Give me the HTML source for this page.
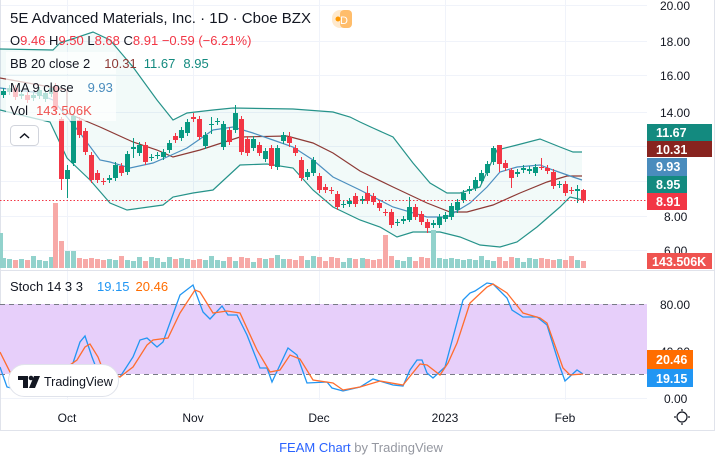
<!DOCTYPE html>
<html><head><meta charset="utf-8"><style>
body{margin:0;width:723px;height:459px;background:#fff;overflow:hidden;font-family:"Liberation Sans",sans-serif;}
svg{position:absolute;left:0;top:0}
.t{font-family:"Liberation Sans",sans-serif}
</style></head><body>
<svg id="s" width="723" height="459" xmlns="http://www.w3.org/2000/svg">
<g stroke="#f0f3fa" stroke-width="1">
<line x1="0" y1="5.5" x2="647" y2="5.5"/><line x1="0" y1="41.5" x2="647" y2="41.5"/><line x1="0" y1="75.5" x2="647" y2="75.5"/><line x1="0" y1="112.5" x2="647" y2="112.5"/><line x1="0" y1="146.5" x2="647" y2="146.5"/><line x1="0" y1="181.5" x2="647" y2="181.5"/><line x1="0" y1="216.5" x2="647" y2="216.5"/><line x1="0" y1="250.5" x2="647" y2="250.5"/>
<line x1="0" y1="351.5" x2="647" y2="351.5"/><line x1="0" y1="398.5" x2="647" y2="398.5"/>
<line x1="67.5" y1="0" x2="67.5" y2="400"/><line x1="193.5" y1="0" x2="193.5" y2="400"/><line x1="319.5" y1="0" x2="319.5" y2="400"/><line x1="445.5" y1="0" x2="445.5" y2="400"/><line x1="565.5" y1="0" x2="565.5" y2="400"/>
</g>
<line x1="0" y1="270.5" x2="714" y2="270.5" stroke="#e0e3eb"/>
<line x1="714.5" y1="0" x2="714.5" y2="430" stroke="#e0e3eb"/>
<line x1="0" y1="430.5" x2="715" y2="430.5" stroke="#e0e3eb"/>
<line x1="0.5" y1="0" x2="0.5" y2="430" stroke="#e0e3eb"/>
<!-- BB fill -->
<polygon fill="#26a69a" fill-opacity="0.06" points="0,49 53,50 60,43 93,32 110,40 133,67 157,100 173,120 187,113 213,110 233,108 293,109 333,112 350,117 360,122 373,128 393,137 413,163 430,183 447,193 460,193 480,187 497,150 517,145 540,139 560,147 573,152 582,152 582,200 570,197 560,207 537,227 517,242 500,247 480,245 460,237 440,232 413,232 397,237 380,227 360,220 333,207 313,190 293,168 267,164 240,165 213,190 193,193 173,197 163,205 127,210 110,203 90,180 67,158 50,122 33,118 0,110"/>
<polyline fill="none" stroke="#26938a" stroke-width="1.2" points="0,49 53,50 60,43 93,32 110,40 133,67 157,100 173,120 187,113 213,110 233,108 293,109 333,112 350,117 360,122 373,128 393,137 413,163 430,183 447,193 460,193 480,187 497,150 517,145 540,139 560,147 573,152 582,152"/>
<polyline fill="none" stroke="#26938a" stroke-width="1.2" points="0,110 33,118 50,122 67,158 90,180 110,203 127,210 163,205 173,197 193,193 213,190 240,165 267,164 293,168 313,190 333,207 360,220 380,227 397,237 413,232 440,232 460,237 480,245 500,247 517,242 537,227 560,207 570,197 583,200"/>
<polyline fill="none" stroke="#8d3a36" stroke-width="1.2" points="0,78 67,90 67,113 100,127 133,142 157,150 173,157 200,150 240,137 287,136 313,143 333,153 360,171 393,187 427,203 450,212 467,212 493,205 520,193 547,182 567,176 582,176"/>
<polyline fill="none" stroke="#4c8fbf" stroke-width="1.2" points="0,88 33,92 53,100 67,117 80,133 100,160 110,162 130,168 153,163 167,157 187,148 213,130 233,127 253,133 273,140 293,147 313,160 333,177 360,190 393,207 427,217 447,217 470,203 487,187 500,172 517,167 540,165 553,170 573,177 582,180"/>
<g id="vol"></g>
<g id="cand"></g>
<line x1="0" y1="200.5" x2="647" y2="200.5" stroke="#f23645" stroke-dasharray="1.5,2"/>
<!-- stoch -->
<rect x="0" y="304" width="647" height="70" fill="#e7cffa"/>
<line x1="0" y1="304.5" x2="647" y2="304.5" stroke="#787b86" stroke-dasharray="5,4"/>
<line x1="0" y1="374.5" x2="647" y2="374.5" stroke="#787b86" stroke-dasharray="5,4"/>
<polyline fill="none" stroke="#2196f3" stroke-width="1.3" points="0,367 7,387 40,395 60,380 73,363 80,342 85,336 92,357 97,370 120,377 133,357 140,340 147,338 157,347 163,342 180,295 193,285 203,312 210,319 222,306 228,315 237,315 247,335 260,368 267,368 272,382 288,348 297,355 307,383 327,382 332,388 343,391 360,387 373,379 393,385 403,386 410,370 417,360 422,360 427,373 433,378 445,367 463,300 470,293 475,291 487,283 493,284 507,298 512,310 523,317 537,317 547,325 560,367 565,381 577,370 583,374"/>
<polyline fill="none" stroke="#ff6d2e" stroke-width="1.3" points="0,352 10,372 40,392 60,372 77,360 85,347 90,344 98,357 103,370 120,377 133,367 147,345 153,340 168,338 180,313 195,290 200,292 213,313 227,311 240,313 257,350 270,372 280,370 290,355 300,359 313,380 333,383 343,390 360,387 380,381 403,385 420,364 427,365 440,375 448,363 457,343 470,303 487,287 493,284 507,293 523,313 540,318 547,323 563,368 570,375 583,374"/>
<!-- TV logo -->
<rect x="8.5" y="364.5" width="110" height="32" rx="16" fill="#fff" stroke="#e0e3eb"/>
<path d="M18,376 h10 v12 h-5 v-8 h-5z" fill="#131722"/><circle cx="31" cy="378" r="2.3" fill="#131722"/><path d="M34,376 h6 l-5,12 h-6z" fill="#131722"/>
<text x="44" y="386" font-size="12.5" fill="#131722" class="t">TradingView</text>
<!-- axis labels -->
<g font-size="12" fill="#131722" class="t" text-anchor="start">
<text x="660" y="10">20.00</text><text x="660" y="46">18.00</text><text x="660" y="80">16.00</text><text x="660" y="117">14.00</text><text x="664" y="221">8.00</text><text x="664" y="255">6.00</text>
<text x="660" y="309">80.00</text><text x="660" y="356">40.00</text><text x="664" y="403">0.00</text>
</g>
<g font-size="12" fill="#131722" class="t" text-anchor="middle">
<text x="67" y="422">Oct</text><text x="193" y="422">Nov</text><text x="319" y="422">Dec</text><text x="445" y="422">2023</text><text x="565" y="422">Feb</text>
</g>
<circle cx="682" cy="417" r="5" fill="none" stroke="#131722" stroke-width="1.2"/>
<g stroke="#131722" stroke-width="1.2"><line x1="682" y1="409" x2="682" y2="411"/><line x1="682" y1="423" x2="682" y2="425"/><line x1="674" y1="417" x2="676" y2="417"/><line x1="688" y1="417" x2="690" y2="417"/></g>
<!-- price boxes -->
<g font-size="12.5" font-weight="bold" fill="#fff" class="t">
<rect x="647" y="124" width="65" height="17" fill="#138a7f"/><text x="656" y="137">11.67</text>
<rect x="647" y="141" width="65" height="16" fill="#88241f"/><text x="656" y="154">10.31</text>
<rect x="647" y="158" width="40" height="18" fill="#4a8cbd"/><text x="656" y="171">9.93</text>
<rect x="647" y="176" width="40" height="17" fill="#138a7f"/><text x="656" y="189">8.95</text>
<rect x="647" y="193" width="40" height="17" fill="#f23645"/><text x="656" y="206">8.91</text>
<rect x="647" y="253" width="65" height="16" fill="#ef5350"/><text x="652" y="266">143.506K</text>
<rect x="647" y="350" width="46" height="19" fill="#ff6d00"/><text x="656" y="364">20.46</text>
<rect x="647" y="369" width="46" height="18" fill="#2196f3"/><text x="656" y="383">19.15</text>
</g>
<!-- legend -->
<rect x="6" y="52" width="110" height="22" fill="#fff" fill-opacity="0.7"/>
<rect x="6" y="76" width="110" height="45" fill="#fff" fill-opacity="0.7"/>
<text x="10" y="23" font-size="15" fill="#131722" class="t">5E Advanced Materials, Inc. · 1D · Cboe BZX</text>
<rect x="332" y="10" width="16" height="18" rx="8" fill="#ffe9cc"/><rect x="340" y="10" width="12" height="18" rx="4" fill="#ffbd6b"/>
<text x="344" y="24" font-size="11" fill="#fff" class="t" text-anchor="middle">D</text>
<circle cx="338" cy="19" r="2.5" fill="#ff9800"/>
<text x="10" y="45" font-size="13" class="t"><tspan fill="#131722">O</tspan><tspan fill="#f23645">9.46 </tspan><tspan fill="#131722">H</tspan><tspan fill="#f23645">9.50 </tspan><tspan fill="#131722">L</tspan><tspan fill="#f23645">8.68 </tspan><tspan fill="#131722">C</tspan><tspan fill="#f23645">8.91 −0.59 (−6.21%)</tspan></text>
<text x="10" y="68" font-size="13" class="t"><tspan fill="#131722">BB 20 close 2</tspan><tspan fill="#8d3a36" dx="14">10.31</tspan><tspan fill="#138a7f" dx="8">11.67</tspan><tspan fill="#138a7f" dx="8">8.95</tspan></text>
<text x="10" y="92" font-size="13" class="t"><tspan fill="#131722">MA 9 close</tspan><tspan fill="#4a8cbd" dx="14">9.93</tspan></text>
<text x="10" y="115" font-size="13" class="t"><tspan fill="#131722">Vol</tspan><tspan fill="#ef5350" dx="8">143.506K</tspan></text>
<rect x="10.5" y="125.5" width="28" height="20" rx="4" fill="#fff" stroke="#d1d4dc"/>
<path d="M20,138 l4.5,-4 l4.5,4" fill="none" stroke="#131722" stroke-width="1.5"/>
<text x="10" y="291" font-size="13" class="t"><tspan fill="#131722">Stoch 14 3 3</tspan><tspan fill="#2196f3" dx="14">19.15</tspan><tspan fill="#ff6d00" dx="6">20.46</tspan></text>
<text x="361" y="452" font-size="13" class="t" text-anchor="middle"><tspan fill="#2962ff">FEAM Chart</tspan><tspan fill="#9598a1"> by TradingView</tspan></text>
</svg>
<script>
var C=[[3,95,91],[9,92,88],[15,88,97],[21,96,94],[27,95,100],[33,98,95],[39,96,90],[45,99,93],[51,94,88],[55,86,110],[61,119,179,117,190],[67,179,170,165,198],[73,163,116],[79,120,135],[85,131,152],[91,155,180],[97,173,180],[103,181,182],[109,180,178],[115,178,165],[121,166,173],[127,172,154],[133,149,147,138,158],[139,153,145],[145,145,162],[151,158,157],[157,156,155],[163,157,152],[169,150,143],[175,136,140],[181,138,130],[187,133,122],[193,117,119,113,122],[199,119,137],[205,146,135],[211,125,124,117,134],[217,122,121],[223,147,124],[229,130,142],[235,130,113,105,133],[241,119,152],[247,139,153],[253,148,139],[259,145,153],[265,159,151],[271,148,166],[277,167,148],[283,141,135],[289,137,143,132,147],[295,148,153],[301,160,178],[307,177,172],[313,173,160],[319,176,190],[325,187,190],[331,190,191],[337,194,207],[343,205,204],[349,204,201],[355,196,204],
[362,201,199],[367,193,201,186,204],[373,196,202],[379,203,208],[385,212,213],[391,212,225],[397,223,222],[403,221,219],[409,220,207,197,222],[415,207,217],[421,214,222],[427,222,228,219,233],[433,225,223],[439,225,217],[445,219,215],[451,217,206],[457,210,202],[463,200,193],[469,191,189],[475,188,180],[481,181,173],[487,173,164],[493,162,148,146,165],[499,145,164,145,172],[505,163,168],[511,170,178,168,188],[517,174,172],[523,170,168],[529,171,169],[535,173,167],[541,167,168,158,170],[547,168,171],[553,172,186],[559,185,184],[565,184,193],[571,190,191],[577,191,189,185,203],[583,190,200,189,203]];
var V={0:233,55:203,61:241,67:251,73:251,385:235,433:230,277:255,85:259,97:259,169:257,241:257,313:256,283:259};
var s='',v='';
C.forEach(function(c,i){var x=c[0],o=c[1],cl=c[2],g=cl<o;var col=g?'#089981':'#f23645';
var t=Math.min(o,cl),b=Math.max(o,cl);var h=c[3]||t-3,l=c[4]||b+3;
s+='<line x1="'+(x+.5)+'" y1="'+h+'" x2="'+(x+.5)+'" y2="'+l+'" stroke="'+col+'"/>';
s+='<rect x="'+(x-2)+'" y="'+t+'" width="5" height="'+Math.max(1,b-t)+'" fill="'+col+'"/>';
var top=V[x]||(258+((i*7)%5)-(i%3));
v+='<rect x="'+(x-2)+'" y="'+top+'" width="5" height="'+(268-top)+'" fill="'+(g?'#92d2cc':'#f7a9a7')+'"/>';});
v='<rect x="0" y="233" width="3" height="35" fill="#92d2cc"/>'+v;
document.getElementById('cand').innerHTML=s;document.getElementById('vol').innerHTML=v;
</script>
</body></html>
